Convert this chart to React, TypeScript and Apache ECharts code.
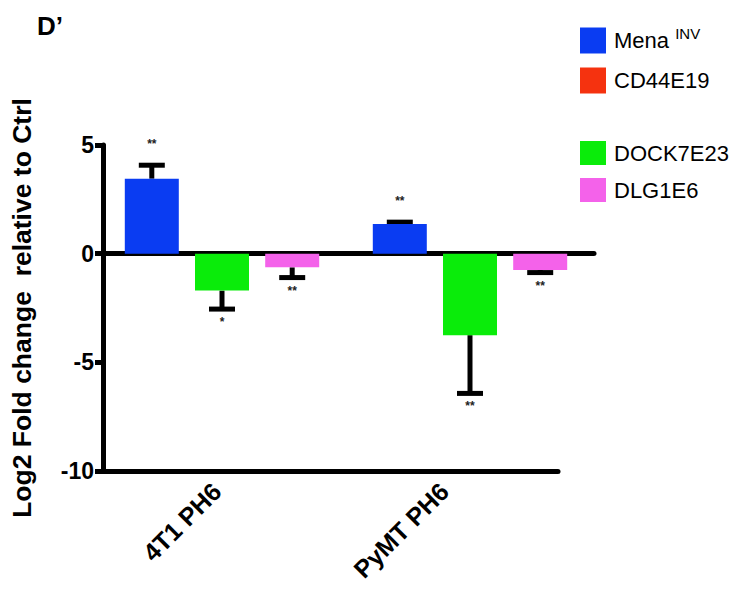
import React, { useEffect, useRef } from "react";
import * as echarts from "echarts";

const categories = ["4T1 PH6", "PyMT PH6"];
const seriesNames = ["Mena INV", "CD44E19", "DOCK7E23", "DLG1E6"];
const menaValues = [3.45, 1.37];
const menaErrors = [0.62, 0.08];
const cd44Values = [0, 0];
const dock7Values = [-1.7, -3.75];
const dock7Errors = [0.85, 2.68];
const dlg1Values = [-0.63, -0.75];
const dlg1Errors = [0.47, 0.12];
const menaStars = ["**", "**"];
const dock7Stars = ["*", "**"];
const dlg1Stars = ["**", "**"];
const yMin = -10;
const yMax = 5;
const yInterval = 5;

const FONT = "'Liberation Sans', Arial, sans-serif";
const BAR_W = 54;
const BAR_GAP = 0.3;

function errorSeries(
  name: string,
  values: number[],
  errors: number[],
  stars: string[],
  slot: number
) {
  return {
    type: "custom",
    name: name + " err",
    xAxisIndex: 1,
    yAxisIndex: 1,
    clip: false,
    silent: true,
    data: values.map((v, i) => [i, v, errors[i]]),
    renderItem: (params: any, api: any) => {
      const cat = api.value(0);
      const v = api.value(1);
      const e = api.value(2);
      const sign = v >= 0 ? 1 : -1;
      const offset = (slot - 1) * BAR_W * (1 + BAR_GAP);
      const p0 = api.coord([cat, v]);
      const p1 = api.coord([cat, v + sign * e]);
      const x = p0[0] + offset;
      const star = stars[params.dataIndex];
      const above = sign > 0;
      return {
        type: "group",
        children: [
          {
            type: "line",
            shape: { x1: x, y1: p0[1], x2: x, y2: p1[1] },
            style: { stroke: "#000", lineWidth: 5 },
          },
          {
            type: "line",
            shape: { x1: x - 13, y1: p1[1], x2: x + 13, y2: p1[1] },
            style: { stroke: "#000", lineWidth: 5 },
          },
          {
            type: "text",
            x: x,
            y: above ? p1[1] - 21 : p1[1] + 13,
            style: {
              text: star,
              fill: "#222",
              font: "bold 12px " + FONT,
              align: "center",
              verticalAlign: "middle",
            },
          },
        ],
      };
    },
  };
}

export default function App() {
  const ref = useRef<HTMLDivElement>(null);
  useEffect(() => {
    document.body.style.margin = "0";
    if (!ref.current) return;
    const chart = echarts.init(ref.current, undefined, { renderer: "svg" });
    const legendText = {
      fontFamily: FONT,
      fontSize: 22,
      color: "#000",
      rich: {
        n: { fontFamily: FONT, fontSize: 22, color: "#000", padding: [0, 0, 0, 3] },
        s: { fontFamily: FONT, fontSize: 15, color: "#000", verticalAlign: "top", padding: [0, 0, 14, 0] },
      },
    };
    const legendFmt = (name: string) =>
      name === "Mena INV" ? "{n|Mena }{s|INV}" : "{n|" + name + "}";
    chart.setOption({
      animation: false,
      backgroundColor: "#fff",
      title: {
        text: "D\u2019",
        left: 37,
        top: 13,
        padding: 0,
        textStyle: { fontFamily: FONT, fontSize: 26, fontWeight: "bold", color: "#000" },
      },
      legend: [
        {
          data: [seriesNames[0], seriesNames[1]],
          orient: "vertical",
          left: 580,
          top: 26,
          padding: 0,
          itemWidth: 26,
          itemHeight: 26,
          itemGap: 14,
          icon: "rect",
          formatter: legendFmt,
          textStyle: legendText,
          selectedMode: false,
        },
        {
          data: [seriesNames[2], seriesNames[3]],
          orient: "vertical",
          left: 580,
          top: 141,
          padding: 0,
          itemWidth: 26,
          itemHeight: 24,
          itemGap: 13,
          icon: "rect",
          formatter: legendFmt,
          textStyle: legendText,
          selectedMode: false,
        },
      ],
      grid: [
        { left: 100, right: 176, top: 145, bottom: 125 },
        { left: 98, right: 140, top: 145, bottom: 125 },
      ],
      xAxis: [
        {
          type: "category",
          gridIndex: 0,
          data: categories,
          position: "bottom",
          axisLine: { onZero: false, lineStyle: { color: "#000", width: 5 } },
          axisTick: { alignWithLabel: true, length: 8, lineStyle: { color: "#000", width: 5 } },
          axisLabel: {
            rotate: 45,
            margin: 16,
            fontFamily: FONT,
            fontSize: 25,
            fontWeight: "bold",
            color: "#000",
          },
          splitLine: { show: false },
        },
        {
          type: "category",
          gridIndex: 1,
          data: categories,
          axisLine: { onZero: true, lineStyle: { color: "#000", width: 5 } },
          axisTick: { show: false },
          axisLabel: { show: false },
          splitLine: { show: false },
        },
      ],
      yAxis: [
        {
          type: "value",
          gridIndex: 0,
          min: yMin,
          max: yMax,
          interval: yInterval,
          name: "Log2 Fold change  relative to Ctrl",
          nameLocation: "middle",
          nameGap: 68,
          nameTextStyle: { fontFamily: FONT, fontSize: 26.5, fontWeight: "bold", color: "#000" },
          axisLine: { show: true, lineStyle: { color: "#000", width: 5 } },
          axisTick: { show: true, length: 8, lineStyle: { color: "#000", width: 5 } },
          axisLabel: { margin: 9, fontFamily: FONT, fontSize: 23, fontWeight: "bold", color: "#000" },
          splitLine: { show: false },
        },
        {
          type: "value",
          gridIndex: 1,
          min: yMin,
          max: yMax,
          interval: yInterval,
          show: false,
          splitLine: { show: false },
        },
      ],
      series: [
        {
          type: "bar",
          name: seriesNames[0],
          xAxisIndex: 1,
          yAxisIndex: 1,
          data: menaValues,
          barWidth: BAR_W,
          barGap: BAR_GAP * 100 + "%",
          itemStyle: { color: "#0a3cf2" },
        },
        {
          type: "bar",
          name: seriesNames[1],
          xAxisIndex: 0,
          yAxisIndex: 0,
          data: cd44Values,
          barWidth: BAR_W,
          itemStyle: { color: "#f5320f" },
        },
        {
          type: "bar",
          name: seriesNames[2],
          xAxisIndex: 1,
          yAxisIndex: 1,
          data: dock7Values,
          barWidth: BAR_W,
          barGap: BAR_GAP * 100 + "%",
          itemStyle: { color: "#0aec0a" },
        },
        {
          type: "bar",
          name: seriesNames[3],
          xAxisIndex: 1,
          yAxisIndex: 1,
          data: dlg1Values,
          barWidth: BAR_W,
          barGap: BAR_GAP * 100 + "%",
          itemStyle: { color: "#f462ea" },
        },
        errorSeries("Mena", menaValues, menaErrors, menaStars, 0),
        errorSeries("DOCK7", dock7Values, dock7Errors, dock7Stars, 1),
        errorSeries("DLG1", dlg1Values, dlg1Errors, dlg1Stars, 2),
      ],
    });
    return () => chart.dispose();
  }, []);
  return <div ref={ref} style={{ width: 734, height: 596 }} />;
}
